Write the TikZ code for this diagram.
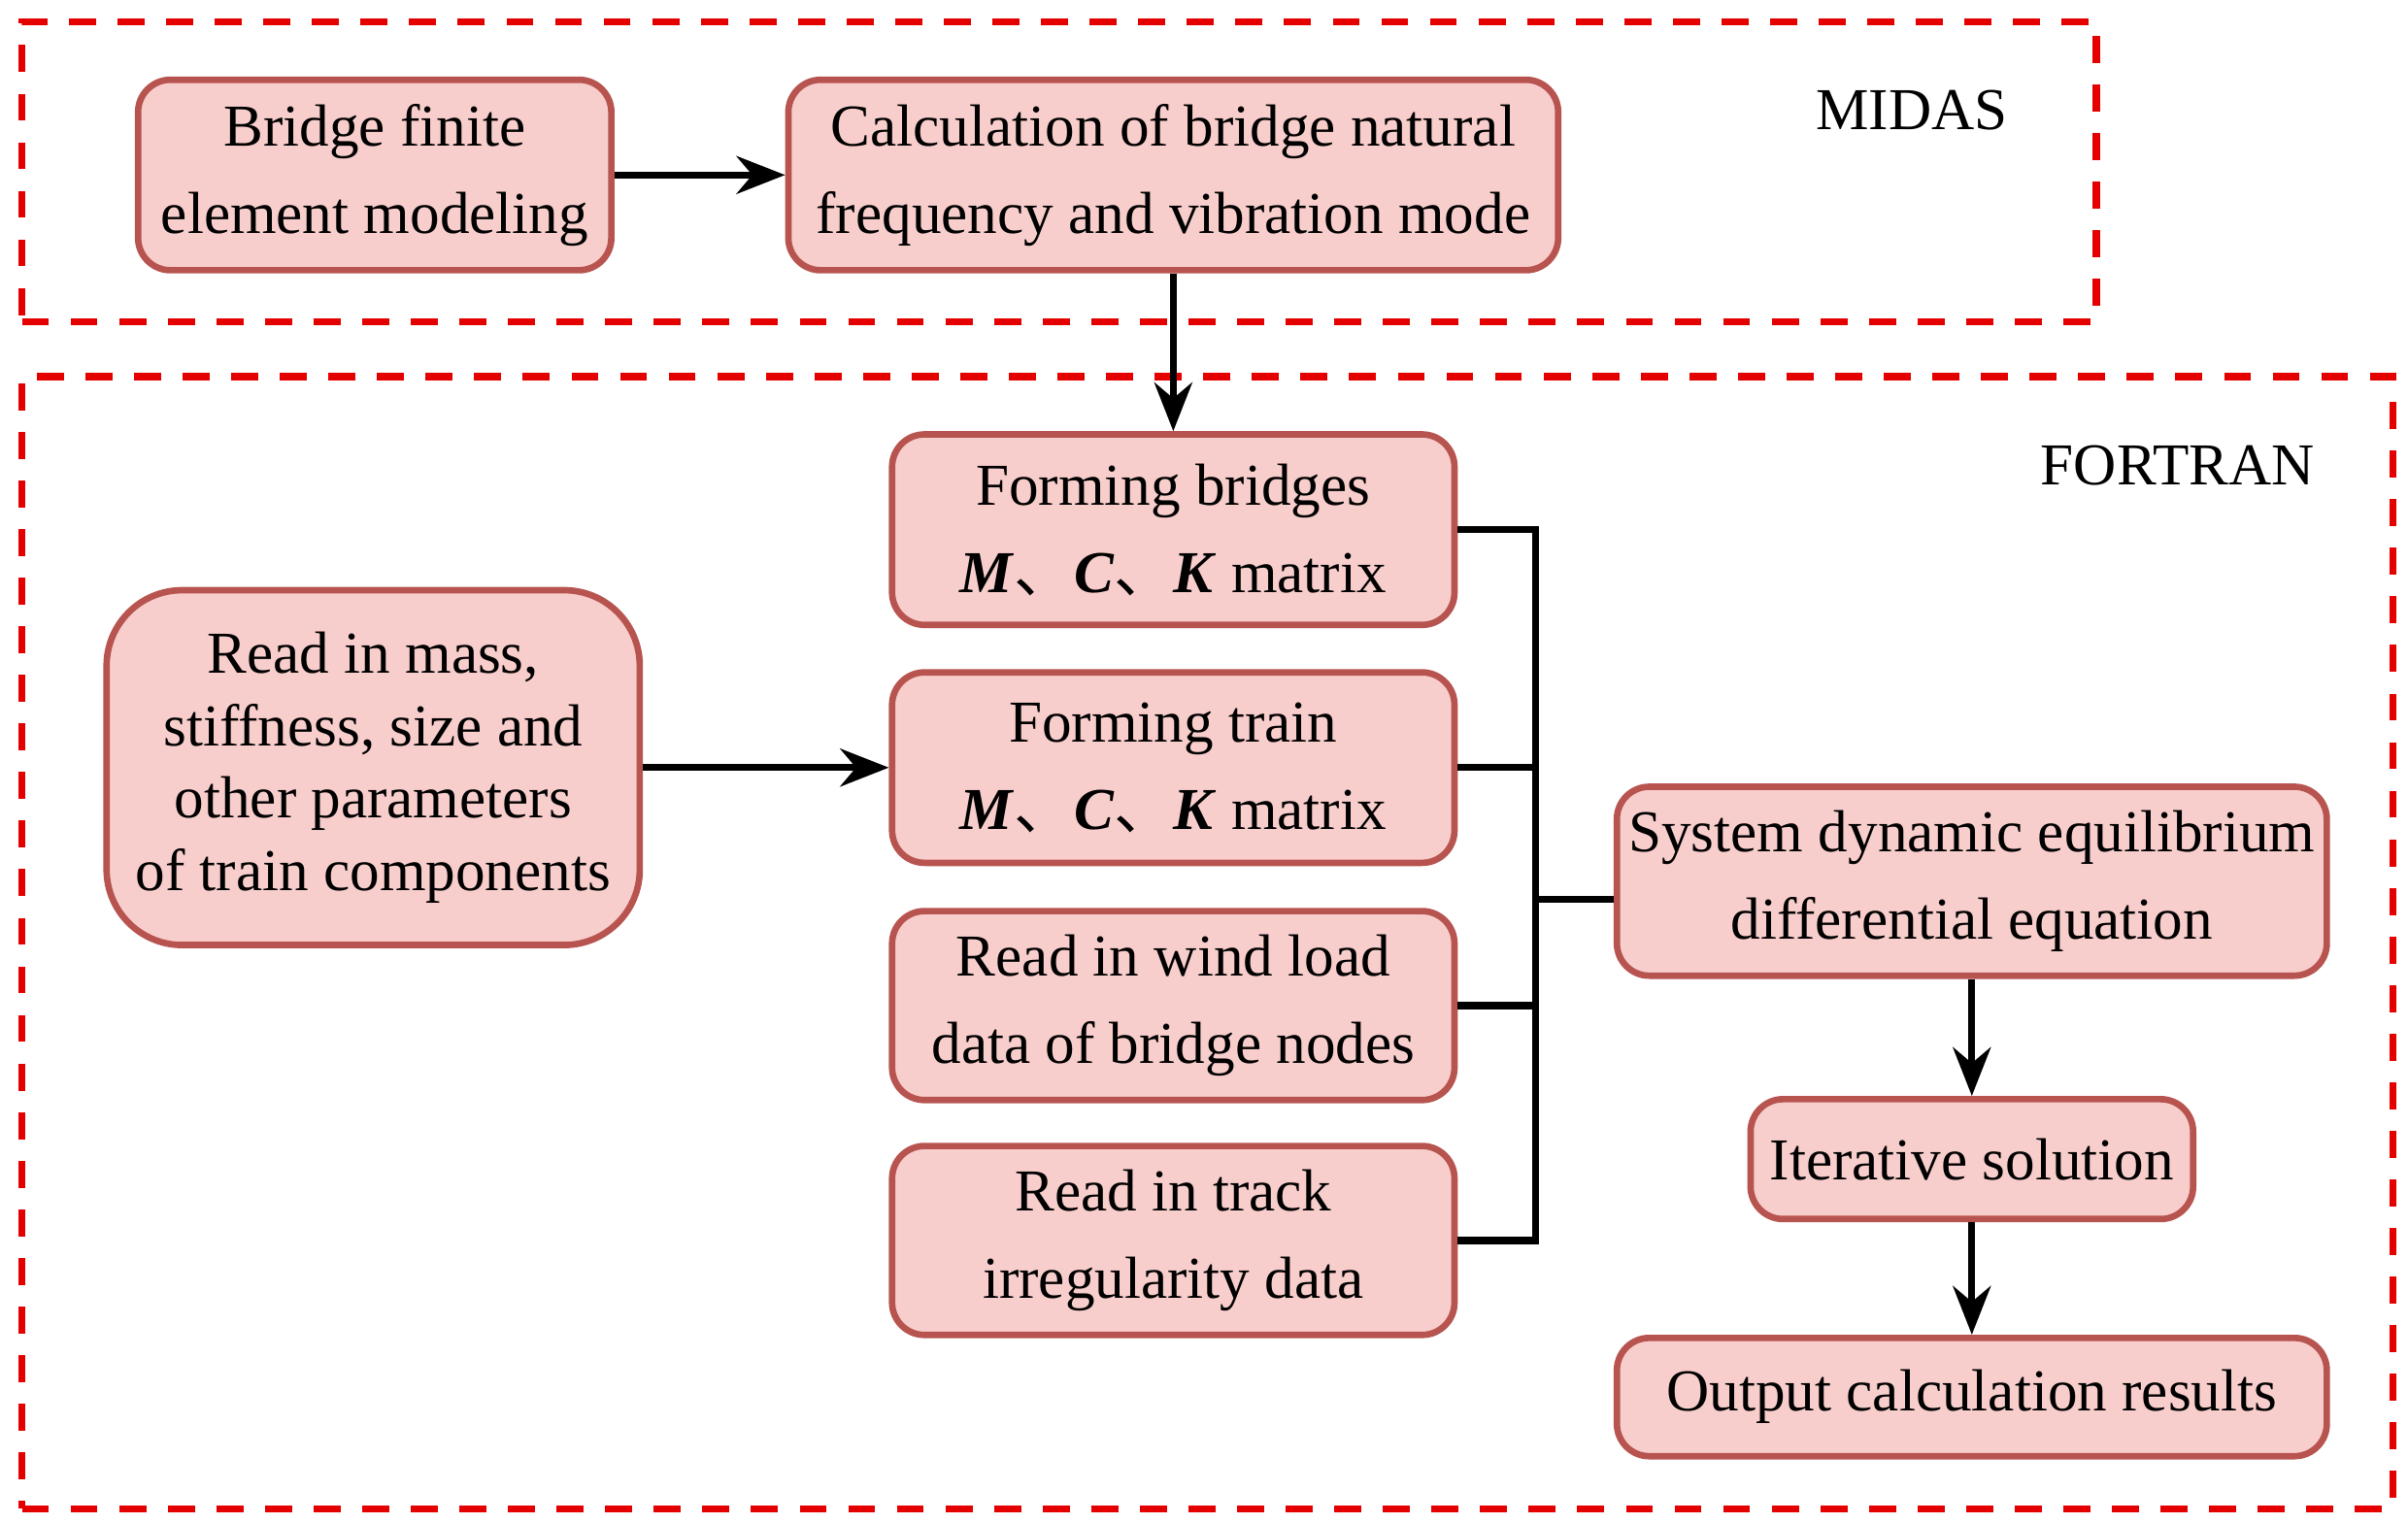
\documentclass[tikz,border=0pt]{standalone}
\usepackage{fontspec}
\setmainfont{Liberation Serif}
\newfontfamily\cjk{Noto Sans CJK SC}
\usetikzlibrary{arrows.meta}
\begin{document}
\begin{tikzpicture}[x=0.01cm,y=-0.01cm,
  box/.style={draw=red!55!black!70, line width=1.2pt, rounded corners=6pt, align=center, font=\fontsize{11}{16.2}\selectfont, inner sep=0pt},
  grp/.style={draw=red!90!black, dashed, line width=1.3pt, dash pattern=on 5pt off 4pt},
  arr/.style={-{Stealth[length=9pt,width=7pt]}, line width=1.3pt},
  ln/.style={line width=1.3pt}]
\useasboundingbox (0,0) rectangle (1568,992);
\definecolor{bf}{HTML}{F8CECC}\definecolor{bd}{HTML}{B85450}
\tikzset{box/.append style={fill=bf,draw=bd}}
\newcommand{\mck}{\textbf{\textit{M}}{\cjk 、}\textbf{\textit{C}}{\cjk 、}\textbf{\textit{K}} matrix}
\node[grp, minimum width=13.5cm, minimum height=1.95cm, anchor=north west] (g1) at (12,12) {};
\node[grp, minimum width=15.43cm, minimum height=7.37cm, anchor=north west] (g2) at (12,243) {};
\node[font=\fontsize{11}{14}\selectfont] (l1) at (1245,72) {MIDAS};
\node[font=\fontsize{11}{14}\selectfont] (l2) at (1418,303) {FORTRAN};
\node[box, minimum width=3.08cm, minimum height=1.24cm] (a) at (244,114) {Bridge finite\\element modeling};
\node[box, minimum width=5.01cm, minimum height=1.24cm] (b) at (764,114) {Calculation of bridge natural\\frequency and vibration mode};
\node[box, minimum width=3.66cm, minimum height=1.24cm] (c) at (764,345) {Forming bridges\\\mck};
\node[box, minimum width=3.66cm, minimum height=1.24cm] (d) at (764,500) {Forming train\\\mck};
\node[box, minimum width=3.66cm, minimum height=1.23cm] (e) at (764,655) {Read in wind load\\data of bridge nodes};
\node[box, minimum width=3.66cm, minimum height=1.23cm] (f) at (764,808) {Read in track\\irregularity data};
\node[box, rounded corners=14pt, minimum width=3.47cm, minimum height=2.31cm, font=\fontsize{11}{13.4}\selectfont] (r) at (243,500) {Read in mass,\\stiffness, size and\\other parameters\\of train components};
\node[box, minimum width=4.62cm, minimum height=1.23cm] (s) at (1284,574) {System dynamic equilibrium\\differential equation};
\node[box, minimum width=2.88cm, minimum height=0.78cm] (i) at (1284,755) {Iterative solution};
\node[box, minimum width=4.62cm, minimum height=0.77cm] (o) at (1284,910) {Output calculation results};
\coordinate (bus) at (1000,586);
\draw[arr] (a) -- (b);
\draw[arr] (b) -- (c);
\draw[arr] (r) -- (d);
\draw[ln] (c.east) -| (bus);
\draw[ln] (f.east) -| (bus);
\draw[ln] (d.east) -- (d.east -| bus);
\draw[ln] (e.east) -- (e.east -| bus);
\draw[ln] (bus) -- (bus -| s.west);
\draw[arr] (s) -- (i);
\draw[arr] (i) -- (o);
\end{tikzpicture}
\end{document}
